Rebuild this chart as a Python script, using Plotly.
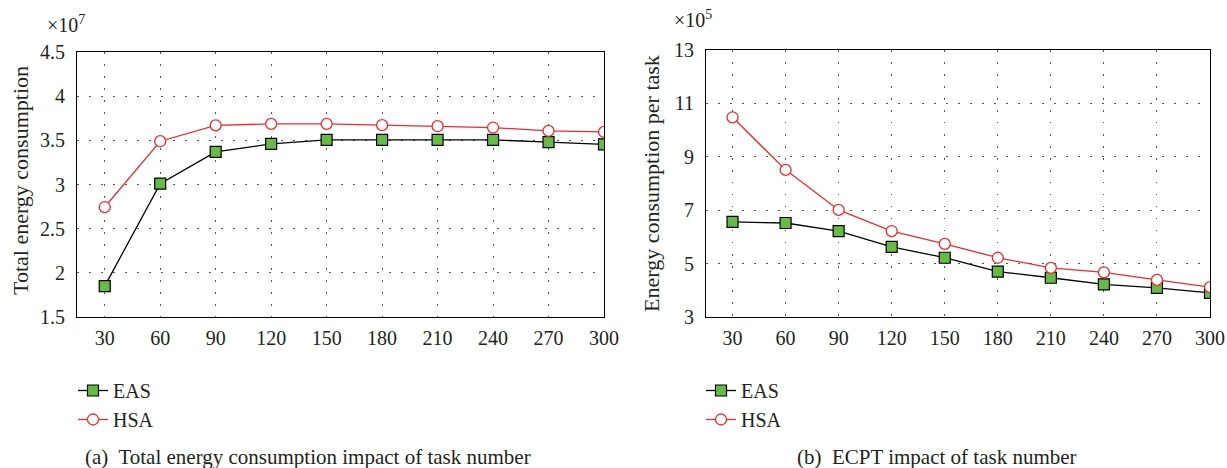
import plotly.graph_objects as go

tasks = [30, 60, 90, 120, 150, 180, 210, 240, 270, 300]
tick_labels = [str(t) for t in tasks]

# (a) Total energy consumption, x10^7
total_eas = [1.85, 3.01, 3.37, 3.46, 3.505, 3.505, 3.505, 3.505, 3.48, 3.455]
total_hsa = [2.745, 3.49, 3.67, 3.687, 3.687, 3.672, 3.66, 3.645, 3.607, 3.596]

# (b) Energy consumption per task, x10^5
ecpt_eas = [6.56, 6.52, 6.22, 5.63, 5.22, 4.70, 4.47, 4.22, 4.09, 3.90]
ecpt_hsa = [10.48, 8.51, 7.01, 6.22, 5.74, 5.22, 4.84, 4.67, 4.39, 4.12]

W, H = 1227, 468
FONT = "Liberation Serif, DejaVu Serif, serif"
FS = 20
GREEN = "#66bb44"
RED = "#ee2a2a"
TXT = "#231f20"

def px(x):
    return x / W

def py(y):
    return 1 - y / H

fig = go.Figure()

def add_series(xa, ya, eas, hsa, leg):
    fig.add_trace(go.Scatter(
        x=tasks, y=eas, name="EAS", mode="lines+markers",
        xaxis=xa, yaxis=ya, legend=leg,
        line=dict(color="black", width=1.3),
        marker=dict(symbol="square", size=11, color=GREEN,
                    line=dict(color="black", width=1.2)),
    ))
    fig.add_trace(go.Scatter(
        x=tasks, y=hsa, name="HSA", mode="lines+markers",
        xaxis=xa, yaxis=ya, legend=leg,
        line=dict(color=RED, width=1.3),
        marker=dict(symbol="circle", size=11, color="white",
                    line=dict(color=RED, width=1.3)),
    ))

add_series("x", "y", total_eas, total_hsa, "legend")
add_series("x2", "y2", ecpt_eas, ecpt_hsa, "legend2")

grid = dict(showgrid=True, gridcolor="#555555", gridwidth=1,
            griddash="1.5px,10.5px", zeroline=False, automargin=False,
            showline=True, linecolor="black", linewidth=1, mirror=True,
            ticks="outside", tickcolor="rgba(0,0,0,0)",
            tickfont=dict(family=FONT, size=FS, color=TXT))

xcommon = dict(grid, range=[15, 300], tickvals=tasks, ticktext=tick_labels, ticklen=3)

fig.update_layout(
    template="none",
    width=W, height=H,
    margin=dict(l=0, r=0, t=0, b=0, autoexpand=False),
    paper_bgcolor="white", plot_bgcolor="white",
    font=dict(family=FONT, size=FS, color=TXT),
    xaxis=dict(xcommon, domain=[px(77), px(604)], anchor="y"),
    yaxis=dict(grid, domain=[py(317), py(52)], range=[1.5, 4.5],
               dtick=0.5, tick0=1.5, ticklen=7, anchor="x"),
    xaxis2=dict(xcommon, domain=[px(706), px(1210)], anchor="y2"),
    yaxis2=dict(grid, domain=[py(317), py(50)], range=[3, 13],
                dtick=2, tick0=3, ticklen=7, anchor="x2"),
    legend=dict(x=px(73), y=py(371), xanchor="left", yanchor="top",
                bgcolor="rgba(0,0,0,0)", font=dict(family=FONT, size=20, color=TXT),
                itemwidth=30, tracegroupgap=0),
    legend2=dict(x=px(701), y=py(371), xanchor="left", yanchor="top",
                 bgcolor="rgba(0,0,0,0)", font=dict(family=FONT, size=20, color=TXT),
                 itemwidth=30, tracegroupgap=0),
    showlegend=True,
)

ann = [
    dict(text="Total energy consumption", x=px(21), y=py(181), textangle=-90, xanchor="center", size=22),
    dict(text="Energy consumption per task", x=px(652), y=py(184), textangle=-90, xanchor="center", size=22),
    dict(text="×10<sup>7</sup>", x=px(45), y=py(24), xanchor="left", size=20),
    dict(text="×10<sup>5</sup>", x=px(672), y=py(19), xanchor="left", size=20),
    dict(text="(a)  Total energy consumption impact of task number", x=px(83), y=py(457), xanchor="left", size=21),
    dict(text="(b)  ECPT impact of task number", x=px(795), y=py(457), xanchor="left", size=21),
]
for a in ann:
    size = a.pop("size")
    fig.add_annotation(xref="paper", yref="paper", showarrow=False, yanchor="middle",
                       font=dict(family=FONT, size=size, color=TXT), **a)

fig.write_html("out.html", post_script="document.body.style.margin='0';",
               config={"displayModeBar": False})
